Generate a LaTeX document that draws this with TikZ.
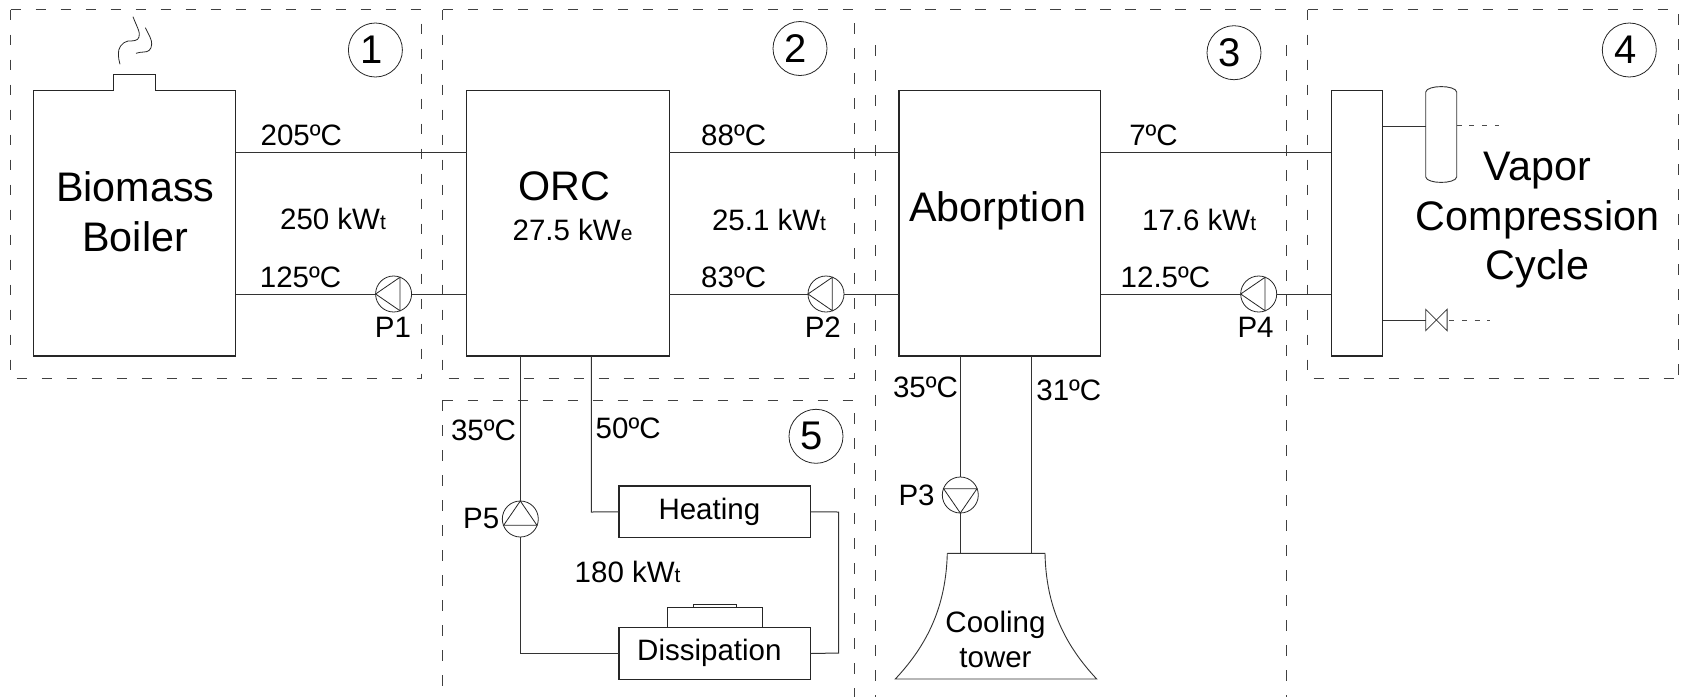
\documentclass[tikz,border=0pt]{standalone}
\usepackage{fontspec}
\setmainfont{Liberation Sans}
\newcommand{\fs}[1]{\fontsize{#1}{#1}\selectfont}
\newcommand{\subt}[1]{{\fs{21}#1}}
\tikzset{
  line/.style={draw=black!80,line width=1pt},
  zone/.style={draw=black!75,line width=1pt,dash pattern=on 10.5pt off 14.5pt},
  stub/.style={draw=black!70,line width=1pt,dash pattern=on 5pt off 7.7pt},
  equip/.style={rectangle,draw=black!85,line width=1.1pt,inner sep=0pt,outer sep=0pt},
  pumpnode/.style={circle,draw=black!85,line width=0.8pt,minimum size=36pt,inner sep=0pt,outer sep=0pt},
  tag/.style={circle,draw=black!85,line width=0.8pt,minimum size=54pt,inner sep=0pt,outer sep=0pt,font=\fs{40}},
  big/.style={inner sep=0pt,anchor=base,font=\fs{41.3}},
  lab/.style={inner sep=0pt,anchor=base west,font=\fs{29.5}},
  ghost/.style={rectangle,inner sep=0pt,outer sep=0pt},
}
\newcommand{\pumpat}[4]{%
  \node[pumpnode] (#1) at (#2,#3) {};
  \draw[draw=black!85,line width=0.8pt,shift={(#1.center)},rotate=#4]
    (-18,0) -- (6.3,-16.7) -- (6.3,16.7) -- cycle;}
\newcommand{\tagtext}[1]{\hspace*{-8pt}#1}
\begin{document}
\begin{tikzpicture}[x=1pt,y=-1pt]
\useasboundingbox (0,0) rectangle (1682,697);
% zones
\draw[zone] (10.7,9.5) -- (421.6,9.5) -- (421.6,378.7);
\draw[zone] (10.7,9.5) -- (10.7,378.7) -- (421.6,378.7);
\draw[zone] (442.9,9.5) -- (854.3,9.5) -- (854.3,378.7);
\draw[zone] (442.9,9.5) -- (442.9,378.7) -- (854.3,378.7);
\draw[zone] (442.7,400) -- (442.7,697);
\draw[zone] (442.7,400) -- (854.3,400) -- (854.3,697);
\draw[zone] (875,9.5) -- (1286.5,9.5);
\draw[zone] (875.3,45) -- (875.3,697);
\draw[zone] (1286.5,45) -- (1286.5,697);
\draw[zone] (1307.7,9.5) -- (1678,9.5) -- (1678,378.7);
\draw[zone] (1307.7,9.5) -- (1307.7,378.7) -- (1678,378.7);
% equipment
\node[equip,minimum width=202.1pt,minimum height=265.3pt] (boiler) at (134.65,223.35) {};
\node[equip,minimum width=42.1pt,minimum height=16pt,anchor=south] (chimney) at (134.65,90.7) {};
\fill[white] (114.4,89.7) rectangle (154.9,91.7);
\node[equip,minimum width=202.8pt,minimum height=265.3pt] (orc) at (568,223.35) {};
\node[equip,minimum width=201.6pt,minimum height=265.3pt] (abs) at (999.8,223.35) {};
\node[equip,minimum width=51.4pt,minimum height=265.3pt] (exch) at (1357,223.35) {};
\node[equip,minimum width=191.7pt,minimum height=51.7pt] (heat) at (714.85,511.85) {};
\node[equip,minimum width=191.7pt,minimum height=51.6pt] (diss) at (714.85,653.5) {};
\node[equip,line width=0.8pt,minimum width=95.4pt,minimum height=20.4pt,anchor=south] (dissa) at (715,627.7) {};
\node[equip,line width=0.7pt,minimum width=43.4pt,minimum height=2.6pt,anchor=south] (dissb) at (715,607.3) {};
% smoke
\draw[draw=black!85,line width=0.8pt] (133,16.7) .. controls (136,25) and (141,33) .. (139,37)
  .. controls (138,41) and (133,41) .. (128,41) .. controls (122,42) and (117.5,49) .. (118.5,54)
  .. controls (118.5,58) and (119,61) .. (120,64.3);
\draw[draw=black!85,line width=0.8pt] (145.3,27.7) .. controls (149,35) and (152,40) .. (151.7,44)
  .. controls (151.5,50) and (148,52) .. (144,52) .. controls (141,52) and (139,52.5) .. (136,53.3);
% cooling tower
\coordinate (towertop) at (996,553.3);
\draw[line,line width=0.9pt] (947.3,553.3) -- (1045,553.3)
  .. controls (1046,600) and (1060,640) .. (1096.7,679) -- (895.3,679)
  .. controls (932,640) and (946,600) .. (947.3,553.3);
% cylinder
\node[ghost,minimum width=31pt,minimum height=96.4pt] (cyl) at (1441.2,134.5) {};
\draw[line,line width=0.9pt] (1425.7,92) .. controls (1427,84.8) and (1455.4,84.8) .. (1456.7,92)
  -- (1456.7,177) .. controls (1455.4,184.2) and (1427,184.2) .. (1425.7,177) -- cycle;
% valve
\node[ghost,minimum width=21.4pt,minimum height=21.4pt] (valve) at (1436.4,320) {};
\draw[line,line width=0.8pt] (valve.north west) -- (valve.south east) -- (valve.north east) -- (valve.south west) -- cycle;
% pumps
\pumpat{p1}{393.6}{294}{0}
\pumpat{p2}{826}{294}{0}
\pumpat{p3}{960.3}{495}{90}
\pumpat{p4}{1258.7}{294}{0}
\pumpat{p5}{520.3}{519}{-90}
% pipe levels
\coordinate (hi) at (0,152.7);
\coordinate (lo) at (0,294);
\coordinate (cylpipe) at (0,126.7);
\coordinate (cylstub) at (1499,125.5);
\coordinate (valvestub) at (1490,320);
\coordinate (heatdrop) at (591.3,512);
\coordinate (rightrun) at (838.7,512);
\coordinate (rightlow) at (838.7,653);
\coordinate (towerret) at (1031.3,553.3);
% connectors
\draw[line] (boiler.east |- hi) -- (orc.west |- hi);
\draw[line] (orc.east |- hi) -- (abs.west |- hi);
\draw[line] (abs.east |- hi) -- (exch.west |- hi);
\draw[line] (boiler.east |- lo) -- (p1.west);
\draw[line] (p1.east) -- (orc.west |- lo);
\draw[line] (orc.east |- lo) -- (p2.west);
\draw[line] (p2.east) -- (abs.west |- lo);
\draw[line] (abs.east |- lo) -- (p4.west);
\draw[line] (p4.east) -- (exch.west |- lo);
\draw[line] (exch.east |- cylpipe) -- (cyl.west |- cylpipe);
\draw[line] (exch.east |- valve) -- (valve.west);
\draw[stub] (cyl.east |- cylstub) -- (cylstub);
\draw[stub] ([xshift=2pt]valve.east) -- (valvestub);
\draw[line] (p5 |- orc.south) -- (p5.north);
\draw[line] (p5.south) |- (diss.west);
\draw[line] (heatdrop |- orc.south) -- (heatdrop) -- (heat.west);
\draw[line] (heat.east) -- (rightrun) -- (rightlow) -- (diss.east);
\draw[line] (p3 |- abs.south) -- (p3.north);
\draw[line] (p3.south) -- (p3 |- towertop);
\draw[line] (towerret |- abs.south) -- (towerret);
% tags
\node[tag] (t1) at (375.4,50) {\tagtext{1}};
\node[tag] (t2) at (800,48.5) {\tagtext{2}};
\node[tag] (t3) at (1234,52.7) {\tagtext{3}};
\node[tag] (t4) at (1629.3,50) {\tagtext{4}};
\node[tag] (t5) at (816,436.3) {\tagtext{5}};
% big text
\node[big] (l1) at (135.2,201.7) {Biomass};
\node[big] (l2) at (135.2,251.7) {Boiler};
\node[big] (l3) at (564,200) {ORC};
\node[big] (l4) at (997.6,221) {Aborption};
\node[big] (l5) at (1537.5,180) {Vapor};
\node[big] (l6) at (1537.5,230) {Compression};
\node[big] (l7) at (1537.5,279.3) {Cycle};
% labels
\node[lab] (a1) at (260.4,145.7) {205ºC};
\node[lab] (a2) at (259.7,287) {125ºC};
\node[lab] (a3) at (279.9,229) {250 kW\subt{t}};
\node[lab] (a4) at (374.7,337) {P1};
\node[lab] (a5) at (512.4,240) {27.5 kW\subt{e}};
\node[lab] (a6) at (701,145.7) {88ºC};
\node[lab] (a7) at (701,287) {83ºC};
\node[lab] (a8) at (711.8,230) {25.1 kW\subt{t}};
\node[lab] (a9) at (804.6,337) {P2};
\node[lab] (a10) at (1129.1,145.7) {7ºC};
\node[lab] (a11) at (1141.9,230) {17.6 kW\subt{t}};
\node[lab] (a12) at (1120.5,287) {12.5ºC};
\node[lab] (a13) at (1237.3,337) {P4};
\node[lab] (a14) at (450.8,440.7) {35ºC};
\node[lab] (a15) at (595.5,438.3) {50ºC};
\node[lab] (a16) at (463,528.3) {P5};
\node[lab] (a17) at (658.3,519) {Heating};
\node[lab] (a18) at (574.5,582.7) {180 kW\subt{t}};
\node[lab] (a19) at (637,660) {Dissipation};
\node[lab] (a20) at (892.8,397.3) {35ºC};
\node[lab] (a21) at (1036.2,400) {31ºC};
\node[lab] (a22) at (898.3,505.7) {P3};
\node[lab,anchor=base] (a23) at (995.5,632.7) {Cooling};
\node[lab,anchor=base] (a24) at (995.5,667.7) {tower};
\end{tikzpicture}
\end{document}
